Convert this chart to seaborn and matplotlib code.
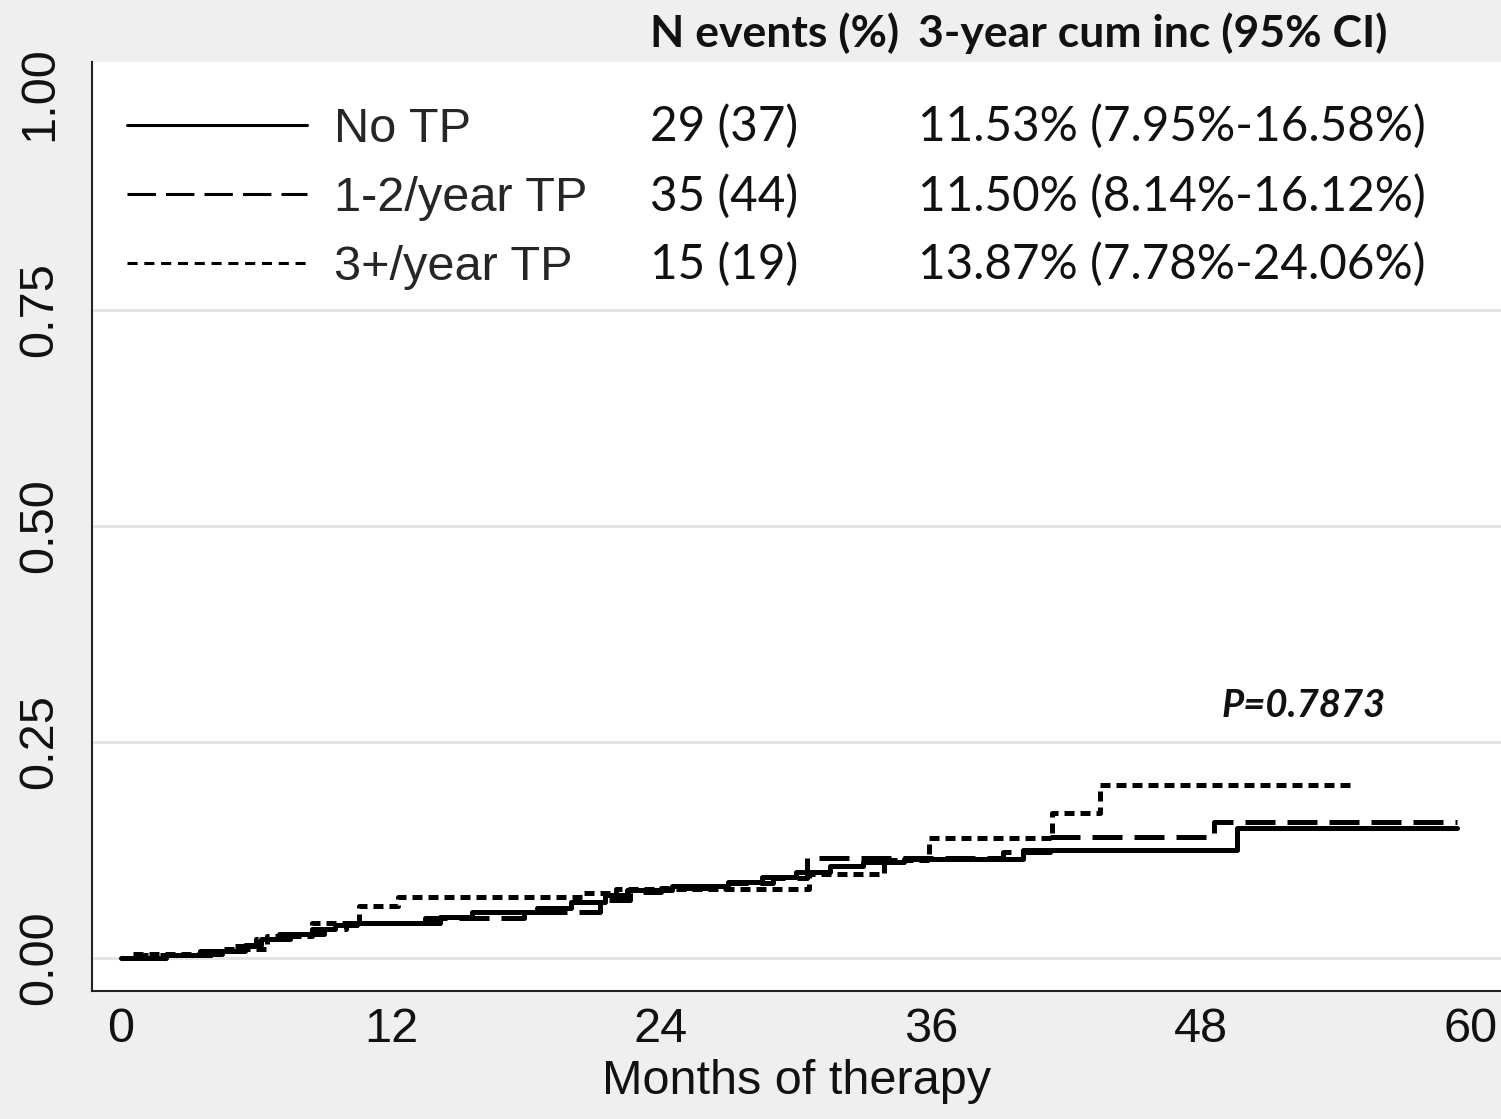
import numpy as np
import pandas as pd
import seaborn as sns
import matplotlib.pyplot as plt
from matplotlib.lines import Line2D

# ---------------- data ----------------
groups = ["No TP", "1-2/year TP", "3+/year TP"]

t_no = [0, 2.0, 4.0, 5.5, 6.2, 7.0, 8.5, 9.5, 10.5, 14.2, 15.6, 18.5, 20.0, 21.5,
        22.5, 24.5, 27.0, 28.5, 30.0, 31.5, 33.0, 34.8, 40.1, 49.6, 59.4]
ci_no = [0, 0.003, 0.008, 0.015, 0.022, 0.028, 0.033, 0.038, 0.041, 0.047, 0.053,
         0.058, 0.065, 0.073, 0.079, 0.083, 0.088, 0.094, 0.099, 0.106, 0.111,
         0.115, 0.125, 0.150, 0.150]

t_12 = [0, 1.0, 3.5, 5.0, 6.0, 7.5, 9.0, 10.0, 13.5, 17.9, 21.3, 22.6, 24.0, 27.0,
        29.0, 30.5, 39.2, 41.3, 48.6, 59.4]
ci_12 = [0, 0.003, 0.008, 0.014, 0.022, 0.028, 0.034, 0.040, 0.046, 0.053, 0.067,
         0.076, 0.081, 0.087, 0.093, 0.116, 0.123, 0.140, 0.157, 0.157]

t_3p = [0, 0.5, 4.5, 6.5, 8.5, 10.6, 12.3, 20.5, 22.0, 30.6, 33.9, 35.9, 41.4,
        43.5, 54.7]
ci_3p = [0, 0.005, 0.010, 0.025, 0.040, 0.060, 0.071, 0.075, 0.080, 0.097, 0.114,
         0.139, 0.168, 0.200, 0.200]

n_events = ["29 (37)", "35 (44)", "15 (19)"]
cum_inc = ["11.53% (7.95%-16.58%)", "11.50% (8.14%-16.12%)", "13.87% (7.78%-24.06%)"]
header_events = "N events (%)"
header_ci = "3-year cum inc (95% CI)"
p_text = "P=0.7873"
x_ticks = [0, 12, 24, 36, 48, 60]
y_ticks = [0.0, 0.25, 0.50, 0.75, 1.00]
y_ticklabels = ["0.00", "0.25", "0.50", "0.75", "1.00"]
x_label = "Months of therapy"

df = pd.concat([
    pd.DataFrame({"months": t_no, "cuminc": ci_no, "group": groups[0]}),
    pd.DataFrame({"months": t_12, "cuminc": ci_12, "group": groups[1]}),
    pd.DataFrame({"months": t_3p, "cuminc": ci_3p, "group": groups[2]}),
], ignore_index=True)

# ---------------- style ----------------
sns.set_style("white")
plt.rcParams["font.family"] = ["Liberation Sans", "DejaVu Sans"]

W, H = 1501, 1119
fig = plt.figure(figsize=(W / 100, H / 100), dpi=100)
bg = "#efefef"
fig.patch.set_facecolor(bg)

L, R, T, B = 92, 1501, 62, 991
ax = fig.add_axes([L / W, 1 - B / H, (R - L) / W, (B - T) / H])
ax.set_facecolor("white")

plot_dashes = {groups[0]: "", groups[1]: (6, 2.4), groups[2]: (2, 1.2)}
sns.lineplot(data=df, x="months", y="cuminc", style="group", style_order=groups,
             dashes=plot_dashes, color="black", linewidth=3.6,
             drawstyle="steps-post", estimator=None, sort=True, legend=False,
             ax=ax, zorder=3)

# axes limits (0 at px121, 22.5 px/month; 0 at py958, 864 px/unit)
ax.set_xlim((L - 121) / 22.5, (R - 121) / 22.5)
ax.set_ylim((958 - B) / 864, (958 - T) / 864)

ax.set_xticks(x_ticks)
ax.set_xticklabels([str(v) for v in x_ticks], fontsize=35)
ax.set_yticks(y_ticks)
ax.set_yticklabels(y_ticklabels, fontsize=35, rotation=90, va="center")
ax.tick_params(axis="both", direction="out", length=8.6, width=1.5,
               color="#222222", labelcolor="#111111")
ax.tick_params(axis="x", pad=3)
ax.tick_params(axis="y", pad=13)
ax.set_xlabel(x_label, fontsize=35, labelpad=5, color="#111111")
ax.set_ylabel("")

for s in ["top", "right"]:
    ax.spines[s].set_visible(False)
for s in ["left", "bottom"]:
    ax.spines[s].set_color("#222222")
    ax.spines[s].set_linewidth(1.5)

ax.yaxis.grid(True, color="#e4e4e4", linewidth=2.2, zorder=0)
ax.set_axisbelow(True)
glines = ax.get_ygridlines()
glines[-1].set_visible(False)

# legend
handles = [
    Line2D([], [], color="black", linewidth=2.2, linestyle="-"),
    Line2D([], [], color="black", linewidth=2.2, linestyle=(0, (9.3, 3.3))),
    Line2D([], [], color="black", linewidth=2.2, linestyle=(0, (3.3, 2.2))),
]
leg = ax.legend(handles, groups, loc="upper left",
                bbox_to_anchor=(117 / W, 1 - 97 / H), bbox_transform=fig.transFigure,
                fontsize=35, handlelength=3.7, handletextpad=0.57, labelspacing=0.5,
                borderpad=0.2, borderaxespad=0, frameon=True, fancybox=False)
leg.get_frame().set_facecolor("white")
leg.get_frame().set_edgecolor("none")

# header and table columns
cal = ["Lato", "DejaVu Sans"]
fig.text(650 / W, 1 - 33 / H, header_events, fontsize=32, fontweight="bold",
         family=cal, ha="left", va="center", color="#111111")
fig.text(918 / W, 1 - 33 / H, header_ci, fontsize=32, fontweight="bold",
         family=cal, ha="left", va="center", color="#111111")
rows_y = [127, 196, 265]
for yy, ne, ci in zip(rows_y, n_events, cum_inc):
    fig.text(650 / W, 1 - yy / H, ne, fontsize=34.3, family=cal, ha="left",
             va="center", color="#111111")
    fig.text(918 / W, 1 - yy / H, ci, fontsize=34.3, family=cal, ha="left",
             va="center", color="#111111")

ax.text((1222 - 121) / 22.5, (958 - 706) / 864, p_text, fontsize=27.5,
        fontweight="bold", fontstyle="italic", family=cal, ha="left",
        va="center", color="#111111")

fig.savefig("out.png", dpi=100, facecolor=bg)
